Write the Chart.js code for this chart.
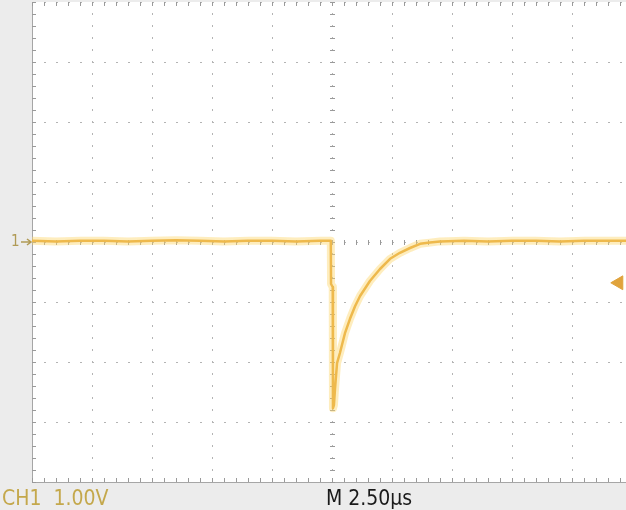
<!DOCTYPE html>
<html lang="en">
<head>
    <meta charset="UTF-8">
    <title>CH1 scope capture</title>
    <script src="https://cdn.jsdelivr.net/npm/chart.js"></script>
    <style>
        html, body {
            margin: 0;
            padding: 0;
            overflow: hidden;
            background-color: #ececec;
        }
        .scope-container {
            position: relative;
            width: 660px;
            height: 510px;
        }
    </style>
</head>
<body>
    <div class="scope-container">
        <canvas id="scopeChart"></canvas>
    </div>

    <script>
        // Trace samples read from the capture (time in µs from trigger, volts)
        const timeUs = [-12.5, -11.5, -10.5, -9.5, -8.5, -7.5, -6.5, -5.5, -4.5, -3.5, -2.5, -1.5, -0.5, -0.05,
            -0.04, 0.03, 0.04, 0.08, 0.125, 0.21, 0.33, 0.54, 0.75, 0.96, 1.17, 1.58, 2.0, 2.42, 2.83, 3.25,
            3.67, 4.08, 4.5, 5.5, 6.5, 7.5, 8.5, 9.5, 10.5, 11.5, 12.5];
        const volts = [0.02, 0.01, 0.02, 0.02, 0.01, 0.02, 0.03, 0.02, 0.01, 0.02, 0.02, 0.01, 0.02, 0.02,
            -0.70, -0.75, -2.77, -2.72, -2.45, -2.02, -1.85, -1.52, -1.28, -1.07, -0.90, -0.65, -0.45, -0.28, -0.18, -0.10,
            -0.03, -0.01, 0.01, 0.02, 0.01, 0.02, 0.02, 0.01, 0.02, 0.02, 0.02];

        // Trigger level marker on the right edge
        const triggerTime = [11.95];
        const triggerLevel = [-0.68];

        // Screen divisions
        const xTicks = [-12.5, -10, -7.5, -5, -2.5, 0, 2.5, 5, 7.5, 10, 12.5];
        const yTicks = [-4, -3, -2, -1, 0, 1, 2, 3, 4];

        const channelLabel = 'CH1  1.00V';
        const timebaseLabel = 'M 2.50µs';

        const traceData = timeUs.map((t, i) => ({ x: t, y: volts[i] }));
        const triggerData = triggerTime.map((t, i) => ({ x: t, y: triggerLevel[i] }));

        // White screen, minor ticks on frame and centre cross, labels
        const scopePlugin = {
            id: 'scope',
            beforeDraw(chart) {
                const { ctx, chartArea: a } = chart;
                ctx.save();
                ctx.fillStyle = '#ffffff';
                ctx.fillRect(a.left, a.top, a.right - a.left, a.bottom - a.top);
                ctx.restore();
            },
            beforeDatasetsDraw(chart) {
                const { ctx, chartArea: a, scales } = chart;
                const xs = scales.x, ys = scales.y;
                const cx = xs.getPixelForValue(0), cy = ys.getPixelForValue(0);
                ctx.save();
                ctx.strokeStyle = '#9a9a9a';
                ctx.lineWidth = 1;
                ctx.beginPath();
                for (let t = -12.5; t <= 12.5; t += 0.5) {
                    const px = Math.round(xs.getPixelForValue(t)) + 0.5;
                    ctx.moveTo(px, a.top); ctx.lineTo(px, a.top + 4);
                    ctx.moveTo(px, a.bottom); ctx.lineTo(px, a.bottom - 4);
                    ctx.moveTo(px, cy - 2); ctx.lineTo(px, cy + 3);
                }
                for (let v = -4; v <= 4.001; v += 0.2) {
                    const py = Math.round(ys.getPixelForValue(v)) + 0.5;
                    ctx.moveTo(a.left, py); ctx.lineTo(a.left + 4, py);
                    ctx.moveTo(cx - 2, py); ctx.lineTo(cx + 3, py);
                }
                ctx.stroke();
                ctx.restore();
            },
            afterDraw(chart) {
                const { ctx, chartArea: a, scales } = chart;
                const gy = scales.y.getPixelForValue(0);
                ctx.save();
                // channel ground marker
                ctx.fillStyle = '#b09a55';
                ctx.font = '15px "DejaVu Sans Condensed", "DejaVu Sans", sans-serif';
                ctx.textBaseline = 'middle';
                ctx.fillText('1', 11, gy);
                ctx.strokeStyle = '#b09a55';
                ctx.lineWidth = 1.5;
                ctx.beginPath();
                ctx.moveTo(21, gy); ctx.lineTo(a.left - 1, gy);
                ctx.moveTo(a.left - 5, gy - 3); ctx.lineTo(a.left - 1, gy); ctx.lineTo(a.left - 5, gy + 3);
                ctx.stroke();
                // bottom status line
                ctx.textBaseline = 'alphabetic';
                ctx.font = '21px "DejaVu Sans Condensed", "DejaVu Sans", sans-serif';
                ctx.fillStyle = '#c4a84c';
                ctx.fillText(channelLabel, 2, 505);
                ctx.fillStyle = '#1a1a1a';
                ctx.fillText(timebaseLabel, 326, 505);
                ctx.restore();
            }
        };

        const ctx = document.getElementById('scopeChart').getContext('2d');
        const scopeChart = new Chart(ctx, {
            type: 'scatter',
            data: {
                datasets: [
                    {
                        // trigger arrow
                        data: triggerData,
                        pointStyle: 'triangle',
                        rotation: 270,
                        radius: 8,
                        backgroundColor: '#e0a33c',
                        borderColor: '#e0a33c',
                        borderWidth: 1
                    },
                    {
                        // trace glow
                        data: traceData,
                        showLine: true,
                        borderColor: 'rgba(252, 214, 110, 0.45)',
                        borderWidth: 8,
                        pointRadius: 0,
                        borderJoinStyle: 'round',
                        borderCapStyle: 'round'
                    },
                    {
                        // trace core
                        data: traceData,
                        showLine: true,
                        borderColor: '#e2a030',
                        borderWidth: 2.5,
                        pointRadius: 0,
                        borderJoinStyle: 'round'
                    }
                ]
            },
            options: {
                responsive: true,
                maintainAspectRatio: false,
                animation: false,
                layout: { autoPadding: false, padding: { top: 2, right: 28, bottom: 0, left: 0 } },
                plugins: {
                    legend: { display: false },
                    tooltip: { enabled: false }
                },
                scales: {
                    x: {
                        type: 'linear',
                        min: -12.5,
                        max: 12.5,
                        afterBuildTicks: s => { s.ticks = xTicks.map(v => ({ value: v })); },
                        afterFit: s => { s.height = 28; },
                        ticks: { display: false },
                        grid: { color: '#b4b4b4', lineWidth: 1, drawTicks: false },
                        border: { display: true, color: '#a6a6a6', width: 1, dash: [2, 10], dashOffset: 1 }
                    },
                    y: {
                        type: 'linear',
                        min: -4,
                        max: 4,
                        afterBuildTicks: s => { s.ticks = yTicks.map(v => ({ value: v })); },
                        afterFit: s => { s.width = 32; },
                        ticks: { display: false },
                        grid: { color: '#b4b4b4', lineWidth: 1, drawTicks: false },
                        border: { display: true, color: '#a6a6a6', width: 1, dash: [2, 10], dashOffset: 1 }
                    }
                }
            },
            plugins: [scopePlugin]
        });
    </script>
</body>
</html>
